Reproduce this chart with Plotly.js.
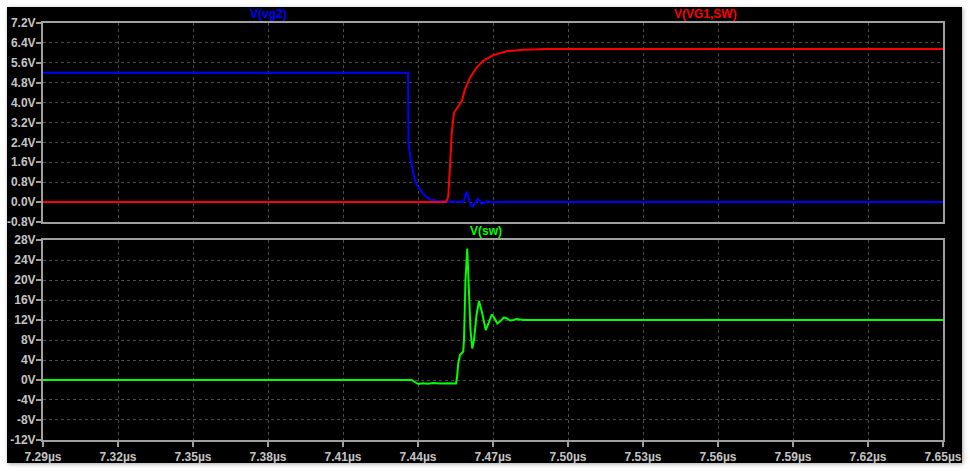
<!DOCTYPE html>
<html><head><meta charset="utf-8">
<script src="https://cdn.plot.ly/plotly-3.0.1.min.js"></script>
<style>
html,body{margin:0;padding:0;background:#ffffff;width:970px;height:471px;overflow:hidden;}
#chart{position:absolute;left:7px;top:7px;width:955px;height:456px;box-shadow:1px 1px 4px rgba(0,0,0,0.35);}
</style></head><body>
<div id="chart"></div>
<script>
// time in microseconds
const tVg2 = [7.29, 7.4360, 7.4362, 7.4368, 7.4381, 7.4392, 7.4408, 7.4428, 7.4448, 7.4476, 7.4508, 7.4552, 7.4580, 7.4587, 7.4591, 7.4595, 7.4600, 7.4606, 7.4612, 7.4619, 7.4628, 7.4639, 7.4647, 7.4655, 7.4665, 7.4675, 7.4685, 7.4696, 7.4728, 7.65];
const vVg2 = [5.2, 5.2, 2.4, 1.9, 1.16, 0.75, 0.49, 0.25, 0.11, 0.05, 0.02, 0.0, 0.0, 0.15, 0.34, 0.38, 0.25, 0.0, -0.14, -0.18, -0.05, 0.13, 0.06, -0.08, -0.02, 0.04, 0.0, -0.01, 0.0, 0.0];

const tVg1sw = [7.29, 7.4511, 7.4516, 7.4521, 7.4528, 7.4535, 7.4544, 7.4561, 7.4575, 7.4588, 7.4608, 7.4635, 7.4661, 7.4701, 7.4755, 7.4821, 7.4915, 7.65];
const vVg1sw = [0.0, 0.0, 0.08, 0.22, 1.43, 2.78, 3.59, 3.86, 4.06, 4.53, 5.0, 5.41, 5.68, 5.91, 6.06, 6.12, 6.15, 6.15];

const tSw = [7.29, 7.4375, 7.4384, 7.4401, 7.4420, 7.4440, 7.4460, 7.4488, 7.4520, 7.4552, 7.4556, 7.4561, 7.4568, 7.4581, 7.4584, 7.4590, 7.4597, 7.4604, 7.4610, 7.4617, 7.4624, 7.4634, 7.4644, 7.4656, 7.4671, 7.4682, 7.4695, 7.4706, 7.4717, 7.4730, 7.4744, 7.4756, 7.4768, 7.4782, 7.4795, 7.4820, 7.65];
const vSw = [0.0, 0.0, -0.3, -0.8, -0.65, -0.75, -0.6, -0.7, -0.65, -0.7, 0.5, 3.3, 5.0, 5.7, 8.0, 20.0, 26.3, 18.0, 10.0, 6.3, 8.0, 13.0, 15.8, 13.5, 10.0, 11.3, 13.1, 12.4, 11.3, 11.8, 12.5, 12.3, 11.9, 12.0, 12.2, 12.0, 12.0];

const xTickVals = [7.29, 7.32, 7.35, 7.38, 7.41, 7.44, 7.47, 7.50, 7.53, 7.56, 7.59, 7.62, 7.65];
const xTickText = ["7.29µs","7.32µs","7.35µs","7.38µs","7.41µs","7.44µs","7.47µs","7.50µs","7.53µs","7.56µs","7.59µs","7.62µs","7.65µs"];
const yTopVals = [-0.8, 0.0, 0.8, 1.6, 2.4, 3.2, 4.0, 4.8, 5.6, 6.4, 7.2];
const yTopText = ["-0.8V","0.0V","0.8V","1.6V","2.4V","3.2V","4.0V","4.8V","5.6V","6.4V","7.2V"];
const yBotVals = [-12, -8, -4, 0, 4, 8, 12, 16, 20, 24, 28];
const yBotText = ["-12V","-8V","-4V","0V","4V","8V","12V","16V","20V","24V","28V"];

const traces = [
  {x: tVg2, y: vVg2, mode: 'lines', line: {color: '#0000ff', width: 2}, xaxis: 'x', yaxis: 'y', name: 'V(vg2)'},
  {x: tVg1sw, y: vVg1sw, mode: 'lines', line: {color: '#ff0000', width: 2}, xaxis: 'x', yaxis: 'y', name: 'V(VG1,SW)'},
  {x: tSw, y: vSw, mode: 'lines', line: {color: '#00ff00', width: 2}, xaxis: 'x2', yaxis: 'y2', name: 'V(sw)'}
];

const tickFont = {family: 'Liberation Sans, Arial, sans-serif', size: 12, color: '#c4c4c4', weight: 'bold'};
const axCommon = {
  showline: true, mirror: true, linecolor: '#a0a0a0', linewidth: 2,
  showgrid: true, gridcolor: '#4c4c4c', griddash: 'dot', gridwidth: 1,
  zeroline: false, tickfont: tickFont, tickcolor: '#a0a0a0', ticklen: 5, tickwidth: 2, ticks: 'outside'
};

const layout = {
  width: 955, height: 456,
  margin: {l: 36, r: 19, t: 16, b: 23},
  paper_bgcolor: '#000000', plot_bgcolor: '#000000',
  showlegend: false,
  xaxis: Object.assign({}, axCommon, {range: [7.29, 7.65], tickmode: 'array', tickvals: xTickVals, ticktext: xTickText, showticklabels: false, ticks: '', anchor: 'y'}),
  yaxis: Object.assign({}, axCommon, {range: [-0.8, 7.2], tickmode: 'array', tickvals: yTopVals, ticktext: yTopText, domain: [0.5228, 1], anchor: 'x', ticklabelstandoff: -2}),
  xaxis2: Object.assign({}, axCommon, {range: [7.29, 7.65], tickmode: 'array', tickvals: xTickVals, ticktext: xTickText, anchor: 'y2'}),
  yaxis2: Object.assign({}, axCommon, {range: [-12, 28], tickmode: 'array', tickvals: yBotVals, ticktext: yBotText, domain: [0, 0.4796], anchor: 'x2', ticklabelstandoff: -2}),
  annotations: [
    {text: 'V(vg2)', xref: 'paper', yref: 'paper', x: (268-43)/900, y: 1, yshift: 9, xanchor: 'center', yanchor: 'middle', showarrow: false, font: {family: 'Liberation Sans, Arial, sans-serif', size: 12, color: '#0000ff', weight: 'bold'}},
    {text: 'V(VG1,SW)', xref: 'paper', yref: 'paper', x: (705-43)/900, y: 1, yshift: 9, xanchor: 'center', yanchor: 'middle', showarrow: false, font: {family: 'Liberation Sans, Arial, sans-serif', size: 12, color: '#ff0000', weight: 'bold'}},
    {text: 'V(sw)', xref: 'paper', yref: 'paper', x: (486-43)/900, y: 0.4796, yshift: 9, xanchor: 'center', yanchor: 'middle', showarrow: false, font: {family: 'Liberation Sans, Arial, sans-serif', size: 12, color: '#00ff00', weight: 'bold'}}
  ]
};

Plotly.newPlot('chart', traces, layout, {displayModeBar: false, staticPlot: true});
</script>
</body></html>
